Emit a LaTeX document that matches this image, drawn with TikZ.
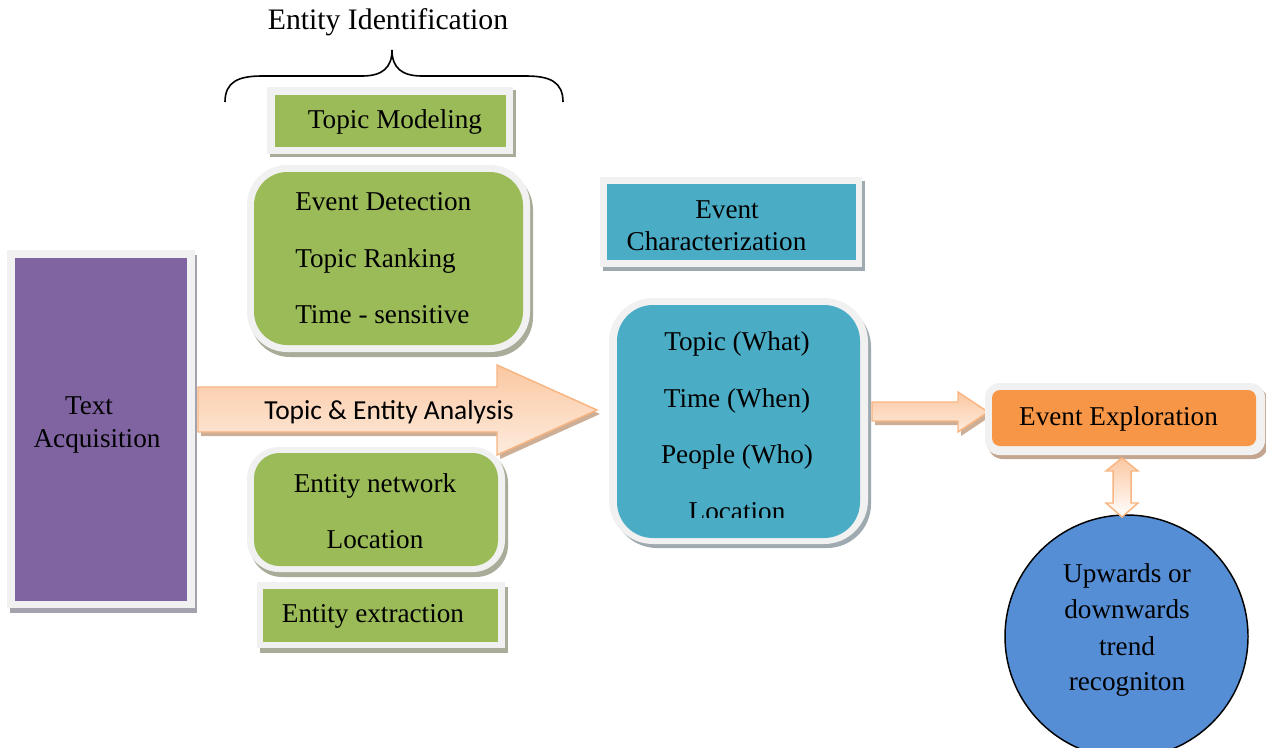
\documentclass[tikz,border=0pt]{standalone}
\usepackage{fontspec}
\setmainfont{Liberation Serif}
\newfontfamily\calib{Carlito}
\usetikzlibrary{calc}
\definecolor{framegray}{HTML}{F1F1F1}
\definecolor{grn}{HTML}{9BBB59}
\definecolor{purp}{HTML}{8064A2}
\definecolor{tealb}{HTML}{4BACC6}
\definecolor{orng}{HTML}{F79646}
\definecolor{blu}{HTML}{558ED5}
\definecolor{gshad}{HTML}{A8AC98}
\definecolor{pshad}{HTML}{A4A2AC}
\definecolor{tshad}{HTML}{9EAAB0}
\definecolor{oshad}{HTML}{C4A690}
\definecolor{ashad}{HTML}{CDAE96}
\definecolor{peachtop}{HTML}{FBC8A2}
\definecolor{peachbot}{HTML}{FDEBDD}
\definecolor{peachedge}{HTML}{F8B582}
\begin{document}
\begin{tikzpicture}[x=0.75pt,y=-0.75pt,
  txt/.style={font=\fontsize{20.4}{24}\selectfont, inner sep=0pt, anchor=base},
  txtw/.style={txt, anchor=base west},
  sans/.style={font=\calib\fontsize{20.6}{24}\selectfont, inner sep=0pt, anchor=base},
  blockarrow/.style={top color=peachtop, bottom color=peachbot, draw=peachedge, line width=1.1pt, line join=miter},
  arrowshadow/.style={fill=ashad},
]
\useasboundingbox (0,0) rectangle (1266,747);
\clip (0,0) rectangle (1266,747);

% ---------- Entity Identification brace ----------
\node[txt, font=\fontsize{22.3}{26}\selectfont] (eid) at (388,29) {Entity Identification};
\draw[line width=1.2pt] (225,102) .. controls (225,82) and (238,76) .. (262,76) -- (362,76)
  .. controls (382,76) and (392,68) .. (392,50)
  .. controls (392,68) and (402,76) .. (422,76) -- (526,76)
  .. controls (550,76) and (563,82) .. (563,102);

% ---------- Topic Modeling ----------
\fill[gshad] (270,90) rectangle (516,157);
\fill[framegray] (267,87) rectangle (513,154);
\fill[grn] (275,95) rectangle (506,147);
\node[txt] (tm) at (395,128) {Topic Modeling};

% ---------- Event detection box ----------
\fill[gshad, rounded corners=30pt] (250,170) rectangle (533,357);
\fill[framegray, rounded corners=30pt] (247,165) rectangle (530,352);
\fill[grn, rounded corners=25pt] (254,172) rectangle (523,345);
\node[txtw] (ed1) at (295,210) {Event Detection};
\node[txtw] (ed2) at (295,267) {Topic Ranking};
\node[txtw] (ed3) at (295,323) {Time - sensitive};

% ---------- Text Acquisition ----------
\fill[pshad] (10,255) rectangle (197,613);
\fill[framegray] (7,250) rectangle (195,608);
\fill[purp] (15,258) rectangle (187,601);
\node[txt] (ta1) at (89,414) {Text};
\node[txt] (ta2) at (97,447) {Acquisition};

% ---------- Entity network box ----------
\fill[gshad, rounded corners=24pt] (250,451) rectangle (508,577);
\fill[framegray, rounded corners=24pt] (247,447) rectangle (505,572);
\fill[grn, rounded corners=19pt] (254,453) rectangle (498,566);
\node[txt] (en1) at (375,492) {Entity network};
\node[txt] (en2) at (375,548) {Location};

% ---------- Entity extraction ----------
\fill[gshad] (260,587) rectangle (508,653);
\fill[framegray] (257,582) rectangle (505,648);
\fill[grn] (263,589) rectangle (498,642);
\node[txt] (ex) at (373,622) {Entity extraction};

% ---------- Big arrow ----------
\fill[arrowshadow] (201,391) -- (500,391) -- (500,369) -- (600,414) -- (500,459) -- (500,436) -- (201,436) -- cycle;
\path[blockarrow] (198,387) -- (497,387) -- (497,365) -- (597,410) -- (497,455) -- (497,432) -- (198,432) -- cycle;
\node[sans] (tea) at (389,419) {Topic \& Entity Analysis};

% ---------- Event Characterization ----------
\fill[tshad] (603,181) rectangle (865,271);
\fill[framegray] (600,177) rectangle (862,267);
\fill[tealb] (607,184) rectangle (856,260);
\node[txt] (ec1) at (727,218) {Event};
\node[txt] (ec2) at (716.5,250) {Characterization};

% ---------- Topic / Time / People / Location ----------
\fill[tshad, rounded corners=33pt] (613,303) rectangle (871,548);
\fill[framegray, rounded corners=33pt] (609,298) rectangle (868,544);
\fill[tealb, rounded corners=27pt] (617,305) rectangle (860,538);
\node[txt] (w1) at (737,350) {Topic (What)};
\node[txt] (w2) at (737,407) {Time (When)};
\node[txt] (w3) at (737,463) {People (Who)};
\begin{scope}
  \clip (620,480) rectangle (860,517);
  \node[txt] (w4) at (737,520) {Location};
\end{scope}

% ---------- small arrow ----------
\fill[arrowshadow] (875,406) -- (961,406) -- (961,396) -- (991,416) -- (961,436) -- (961,425) -- (875,425) -- cycle;
\path[blockarrow] (872,402) -- (958,402) -- (958,392) -- (988,412) -- (958,432) -- (958,421) -- (872,421) -- cycle;

% ---------- Event Exploration ----------
\fill[oshad, rounded corners=11pt] (988,387) rectangle (1268,459);
\fill[framegray, rounded corners=11pt] (985,383) rectangle (1265,455);
\fill[orng, rounded corners=6pt] (992,390) rectangle (1256,446);
\node[txt] (ee) at (1118.5,425) {Event Exploration};

% ---------- trend circle ----------
\node[circle, draw=black, line width=1.1pt, fill=blu, minimum size=182.25pt, inner sep=0pt] (trend) at (1126.5,636.5) {};
\node[txt] (tr1) at (1127,582) {Upwards or};
\node[txt] (tr2) at (1127,618) {downwards};
\node[txt] (tr3) at (1127,655) {trend};
\node[txt] (tr4) at (1127,690) {recogniton};

% ---------- double arrow ----------
\path[top color=peachtop, bottom color=white, draw=peachedge, line width=1.1pt]
  (1122,458) -- (1138,471) -- (1131,471) -- (1131,503) -- (1138,503) -- (1122,517)
  -- (1106,503) -- (1113,503) -- (1113,471) -- (1106,471) -- cycle;
\end{tikzpicture}
\end{document}
